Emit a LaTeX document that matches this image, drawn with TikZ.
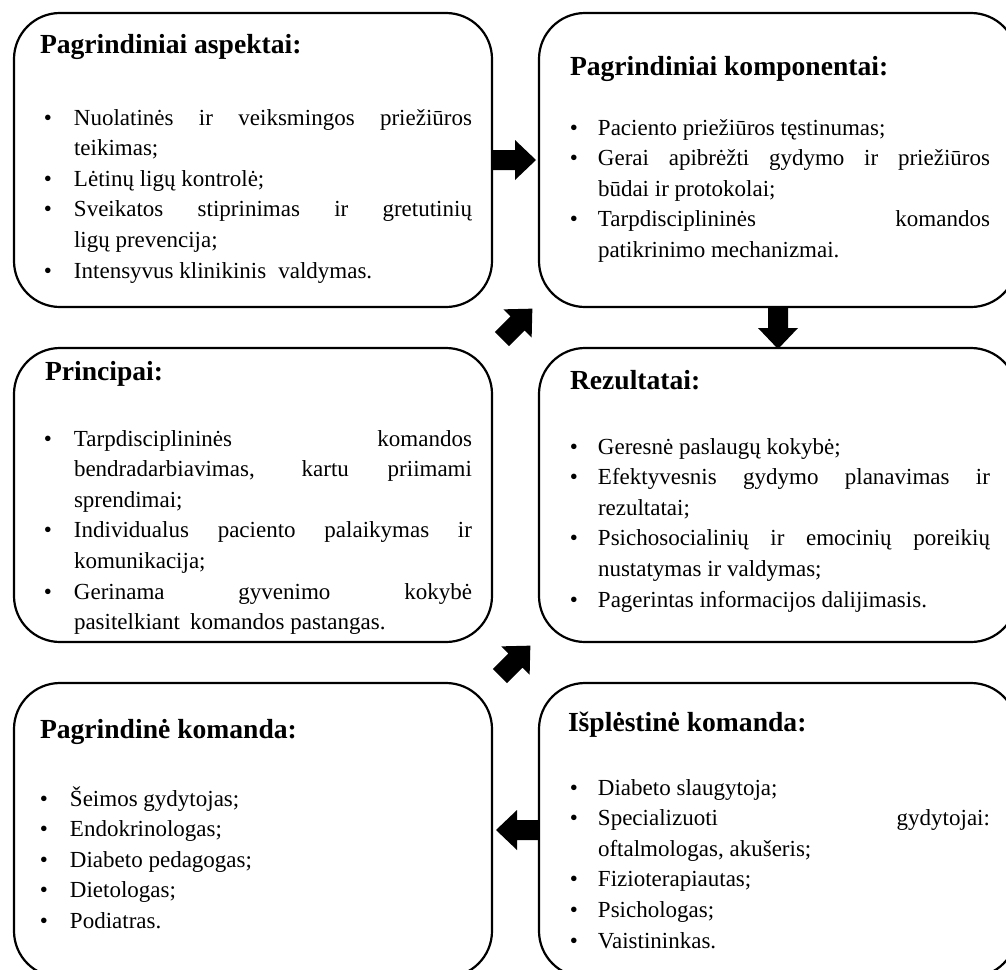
\documentclass[tikz,border=0pt]{standalone}
\usepackage{fontspec}
\setmainfont{Liberation Serif}
\usetikzlibrary{calc}

\newlength\tw
\newlength\bsep
\newcommand\BJ[1]{\hbox{\llap{\textbullet\hskip\bsep}\makebox[\tw][s]{#1}}}
\newcommand\BL[1]{\hbox{\llap{\textbullet\hskip\bsep}#1}}
\newcommand\CJ[1]{\hbox{\makebox[\tw][s]{#1}}}
\newcommand\CL[1]{\hbox{#1}}
\newcommand\blk[3]{\vtop{\tw=#1\relax\bsep=#2\relax\baselineskip=15.3pt\lineskiplimit=-1000pt\lineskip=0pt #3}}

\tikzset{
  box/.style={draw, line width=1.1pt, rounded corners=23pt, minimum width=239pt,
    minimum height=147pt, inner sep=0pt, outer sep=0pt, anchor=north west},
  titletext/.style={inner sep=0pt, outer sep=0pt, anchor=base west,
    font=\fontsize{13.8pt}{16pt}\selectfont\bfseries},
  bodytext/.style={inner sep=0pt, outer sep=0pt, anchor=base west,
    font=\fontsize{11.5pt}{15pt}\selectfont},
  blkarrow/.pic={\fill[black] (-22,-10) -- (0,-10) -- (0,-20) -- (21,0) -- (0,20) -- (0,10) -- (-22,10) -- cycle;}
}

\begin{document}
\begin{tikzpicture}[x=0.5pt, y=-0.5pt]
\useasboundingbox (0,0) rectangle (1006,969);
\clip (0,0) rectangle (1006,969);

% boxes
\node[box] (tl) at (14,13) {};
\node[box] (tr) at (539,13) {};
\node[box] (ml) at (14,348) {};
\node[box] (mr) at (539,348) {};
\node[box] (bl) at (14,683) {};
\node[box] (br) at (539,683) {};

% arrows
\pic[rotate=0] at ($(tl.east)+(23,0)$) {blkarrow};
\pic[rotate=-90] at ($(tr.south)+(0,21)$) {blkarrow};
\pic[rotate=45] at ($(tl.south east)!0.5!(mr.north west)+(2,-4)$) {blkarrow};
\pic[rotate=45] at ($(ml.south east)!0.5!(br.north west)+(0,-2)$) {blkarrow};
\pic[rotate=180] at ($(br.west)+(-22,0)$) {blkarrow};

% titles
\node[titletext] (tlt) at (40,54) {Pagrindiniai aspektai:};
\node[titletext] (trt) at (570,75) {Pagrindiniai komponentai:};
\node[titletext] (mlt) at (45,380) {Principai:};
\node[titletext] (mrt) at (570,389) {Rezultatai:};
\node[titletext] (blt) at (40,738) {Pagrindinė komanda:};
\node[titletext] (brt) at (568,731) {Išplėstinė komanda:};

% bodies
\node[bodytext] (tlx) at (74,125) {\blk{199pt}{11pt}{%
  \BJ{Nuolatinės ir veiksmingos priežiūros}
  \CL{teikimas;}
  \BL{Lėtinų ligų kontrolė;}
  \BJ{Sveikatos stiprinimas ir gretutinių}
  \CL{ligų prevencija;}
  \BL{Intensyvus klinikinis\hskip 6pt valdymas.}}};

\node[bodytext] (trx) at (598,135) {\blk{196pt}{10pt}{%
  \BL{Paciento priežiūros tęstinumas;}
  \BJ{Gerai apibrėžti gydymo ir priežiūros}
  \CL{būdai ir protokolai;}
  \BJ{Tarpdisciplininės komandos}
  \CL{patikrinimo mechanizmai.}}};

\node[bodytext] (mlx) at (74,446) {\blk{199pt}{11pt}{%
  \BJ{Tarpdisciplininės komandos}
  \CJ{bendradarbiavimas, kartu priimami}
  \CL{sprendimai;}
  \BJ{Individualus paciento palaikymas ir}
  \CL{komunikacija;}
  \BJ{Gerinama gyvenimo kokybė}
  \CL{pasitelkiant\hskip 5pt komandos pastangas.}}};

\node[bodytext] (mrx) at (598,454) {\blk{196pt}{10pt}{%
  \BL{Geresnė paslaugų kokybė;}
  \BJ{Efektyvesnis gydymo planavimas ir}
  \CL{rezultatai;}
  \BJ{Psichosocialinių ir emocinių poreikių}
  \CL{nustatymas ir valdymas;}
  \BL{Pagerintas informacijos dalijimasis.}}};

\node[bodytext] (blx) at (70,806) {\blk{199pt}{11pt}{%
  \BL{Šeimos gydytojas;}
  \BL{Endokrinologas;}
  \BL{Diabeto pedagogas;}
  \BL{Dietologas;}
  \BL{Podiatras.}}};

\node[bodytext] (brx) at (598,795) {\blk{196pt}{10pt}{%
  \BL{Diabeto slaugytoja;}
  \BJ{Specializuoti gydytojai:}
  \CL{oftalmologas, akušeris;}
  \BL{Fizioterapiautas;}
  \BL{Psichologas;}
  \BL{Vaistininkas.}}};
\end{tikzpicture}
\end{document}
